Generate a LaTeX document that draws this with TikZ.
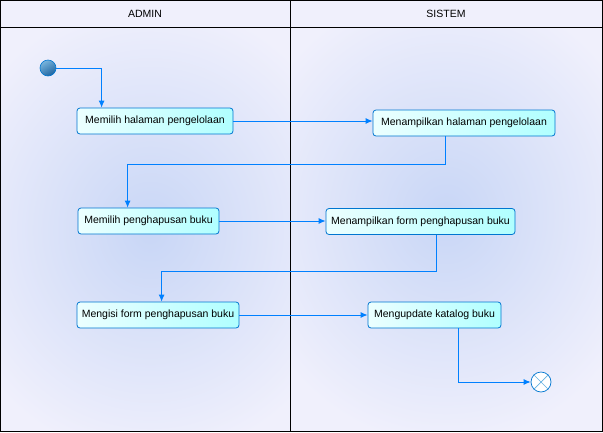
\documentclass[tikz,border=0pt]{standalone}
\usepackage{fontspec}
\setmainfont{Liberation Sans}
\usetikzlibrary{calc,arrows.meta}

\definecolor{lanebg}{RGB}{240,240,252}
\definecolor{glow}{RGB}{200,214,246}
\definecolor{flowblue}{RGB}{0,128,255}
\definecolor{boxline}{RGB}{0,118,208}
\definecolor{boxleft}{RGB}{236,255,255}
\definecolor{boxcyan}{RGB}{176,255,255}
\definecolor{startlight}{RGB}{120,180,220}
\definecolor{startdark}{RGB}{30,100,160}
\definecolor{crossblue}{RGB}{100,176,225}

\tikzset{
  act/.style={rectangle,rounded corners=3pt,draw=boxline,line width=0.8pt,
    left color=boxleft,right color=boxcyan,minimum height=26pt,inner xsep=4pt,
    font=\fontsize{10.5}{12.5}\selectfont},
  flow/.style={draw=flowblue,line width=0.9pt,-{Latex[length=7pt,width=6pt]}},
  lanehead/.style={font=\fontsize{10.5}{12}\selectfont},
}

\begin{document}
\begin{tikzpicture}[x=1pt,y=-1pt]
			\useasboundingbox (0,0) rectangle (603,432);
			
			%lanes
			\fill[lanebg] (0,0) rectangle (603,432);
			\begin{scope}
				\clip (0,27) rectangle (290,431);
				\shade[inner color=glow,outer color=lanebg] (-60,0) rectangle (360,460);
			\end{scope}
			\begin{scope}
				\clip (290,27) rectangle (602,431);
				\shade[inner color=glow,outer color=lanebg] (236,-15) rectangle (656,445);
			\end{scope}
			\draw[line width=0.8pt] (0.5,0.5) rectangle (602,431);
			\draw[line width=0.8pt] (0.5,27) -- (602,27);
			\draw[line width=0.8pt] (290,0.5) -- (290,431);
			\node[lanehead] (admin) at (145,14) {ADMIN};
			\node[lanehead] (sistem) at (446,14) {SISTEM};
			
			%nodes
			\node[circle,draw=boxline,line width=0.6pt,top color=startlight,bottom color=startdark,shading angle=30,minimum size=16pt,inner sep=0pt] (start) at (48,68) {};
			\node[act,minimum width=156pt] (b1) at (155,121) {Memilih halaman pengelolaan};
			\node[act,minimum width=182pt] (b2) at (464,123) {Menampilkan halaman pengelolaan};
			\node[act,minimum width=141pt] (b3) at (148.5,221) {Memilih penghapusan buku};
			\node[act,minimum width=189pt] (b4) at (420.5,221.5) {Menampilkan form penghapusan buku};
			\node[act,minimum width=162pt] (b5) at (158,315) {Mengisi form penghapusan buku};
			\node[act,minimum width=133pt] (b6) at (434.5,315) {Mengupdate katalog buku};
			\node[circle,draw=boxline,line width=0.7pt,fill=white,minimum size=20pt,inner sep=0pt] (end) at (541,382) {};
			\draw[crossblue,line width=0.7pt] (end.45) -- (end.225);
			\draw[crossblue,line width=0.7pt] (end.135) -- (end.315);
			
			%flows
			\draw[flow] (start.east) -| ($(b1.north west)+(25,0)$);
			\draw[flow] (b1.east) -- (b1.east -| b2.west);
			\draw[flow] ($(b2.south west)+(73,0)$) -- ++(0,28) -| ($(b3.north west)+(50,0)$);
			\draw[flow] (b3.east) -- (b3.east -| b4.west);
			\draw[flow] ($(b4.south west)+(111,0)$) -- ++(0,37) -| ($(b5.north west)+(85,0)$);
			\draw[flow] (b5.east) -- (b5.east -| b6.west);
			\draw[flow] ($(b6.south west)+(91,0)$) |- (end.west);
		\end{tikzpicture}
\end{document}
